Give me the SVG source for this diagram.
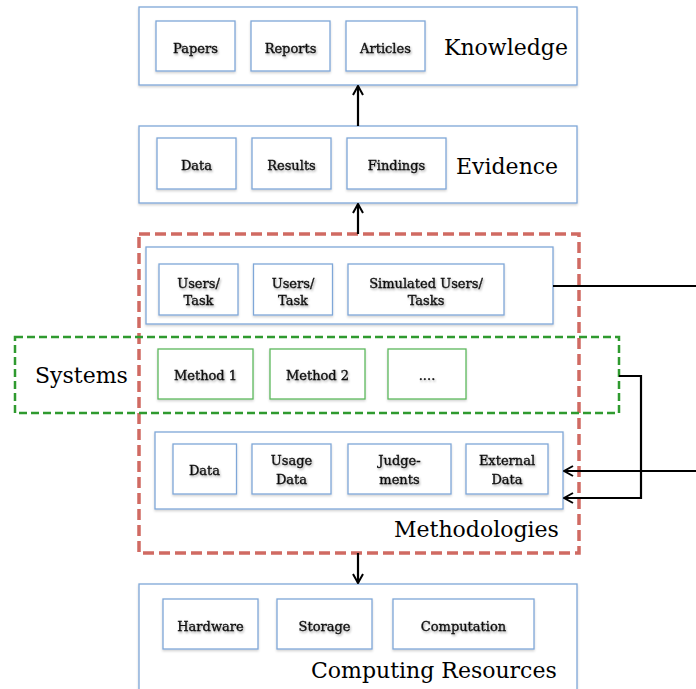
<svg xmlns="http://www.w3.org/2000/svg" width="696" height="689" viewBox="0 0 696 689">
<defs>
<filter id="bs" x="-10%" y="-10%" width="120%" height="130%"><feDropShadow dx="0" dy="1.5" stdDeviation="1.2" flood-color="#000" flood-opacity="0.18"/></filter>
<filter id="ts" x="-10%" y="-20%" width="120%" height="150%"><feDropShadow dx="1" dy="1.5" stdDeviation="0.8" flood-color="#000" flood-opacity="0.35"/></filter>
<marker id="ah" viewBox="0 0 12 12" refX="11" refY="6" markerWidth="12" markerHeight="12" markerUnits="userSpaceOnUse" orient="auto"><path d="M2,1 L11,6 L2,11" fill="none" stroke="#000" stroke-width="2"/></marker>
<style>
.outer{fill:#fff;stroke:#7fa7d8;stroke-width:1.3;filter:url(#bs)}
.inner{fill:#fff;stroke:#7fa7d8;stroke-width:1.3;filter:url(#bs)}
.ginner{fill:#fff;stroke:#5cb85c;stroke-width:1.3;filter:url(#bs)}
.red{fill:none;stroke:#d06a62;stroke-width:3.5;stroke-dasharray:11,5}
.green{fill:none;stroke:#2f9a2f;stroke-width:2.5;stroke-dasharray:8,4}
.s{font-family:"DejaVu Serif","Liberation Serif",serif;font-size:13px;fill:#111;stroke:#111;stroke-width:0.35;text-anchor:middle;filter:url(#ts)}
.b{font-family:"DejaVu Serif","Liberation Serif",serif;font-size:22px;fill:#000}
.c{fill:none;stroke:#000;stroke-width:2.2}
</style>
</defs>
<g id="methodologies-group"><rect class="red" x="139" y="234" width="440" height="319"/></g>
<g id="knowledge">
<rect class="outer" x="139" y="7" width="438" height="78"/>
<rect class="inner" x="156" y="21" width="79" height="50"/><text class="s" x="195.5" y="53">Papers</text>
<rect class="inner" x="251" y="21" width="79" height="50"/><text class="s" x="290.5" y="53">Reports</text>
<rect class="inner" x="346" y="21" width="79" height="50"/><text class="s" x="385.5" y="53">Articles</text>
<text class="b" x="444" y="55">Knowledge</text>
</g>
<g id="evidence">
<rect class="outer" x="139" y="126" width="438" height="77"/>
<rect class="inner" x="157" y="138" width="79" height="51"/><text class="s" x="196.5" y="170">Data</text>
<rect class="inner" x="252" y="138" width="79" height="51"/><text class="s" x="291.5" y="170">Results</text>
<rect class="inner" x="347" y="138" width="99" height="51"/><text class="s" x="396.5" y="170">Findings</text>
<text class="b" x="456" y="174">Evidence</text>
</g>
<g id="users">
<rect class="outer" x="146" y="247" width="407" height="77"/>
<rect class="inner" x="159" y="264" width="79" height="51"/><text class="s" x="198.5" y="288">Users/</text><text class="s" x="198.5" y="305">Task</text>
<rect class="inner" x="253.5" y="264" width="79" height="51"/><text class="s" x="293" y="288">Users/</text><text class="s" x="293" y="305">Task</text>
<rect class="inner" x="348" y="264" width="156" height="51"/><text class="s" x="426" y="288">Simulated Users/</text><text class="s" x="426" y="305">Tasks</text>
</g>
<g id="systems">
<rect class="green" x="15" y="337" width="604" height="76"/>
<text class="b" x="35" y="383">Systems</text>
<rect class="ginner" x="158" y="349" width="95" height="50"/><text class="s" x="205.5" y="380">Method 1</text>
<rect class="ginner" x="270" y="349" width="95" height="50"/><text class="s" x="317.5" y="380">Method 2</text>
<rect class="ginner" x="388" y="349" width="78" height="50"/><text class="s" x="427" y="380">....</text>
</g>
<g id="data">
<rect class="outer" x="155" y="432" width="408" height="77"/>
<rect class="inner" x="173" y="444" width="63.5" height="50"/><text class="s" x="204.5" y="475">Data</text>
<rect class="inner" x="252" y="444" width="79" height="50"/><text class="s" x="291.5" y="465">Usage</text><text class="s" x="291.5" y="484">Data</text>
<rect class="inner" x="348" y="444" width="103" height="50"/><text class="s" x="399.5" y="465">Judge-</text><text class="s" x="399.5" y="484">ments</text>
<rect class="inner" x="466" y="444" width="82" height="50"/><text class="s" x="507" y="465">External</text><text class="s" x="507" y="484">Data</text>
</g>
<g id="methodologies-label"><text class="b" x="394" y="537">Methodologies</text></g>
<g id="computing">
<rect class="outer" x="139" y="584" width="438" height="106"/>
<rect class="inner" x="163" y="599" width="95" height="50"/><text class="s" x="210.5" y="631">Hardware</text>
<rect class="inner" x="277" y="599" width="95" height="50"/><text class="s" x="324.5" y="631">Storage</text>
<rect class="inner" x="393" y="599" width="141" height="50"/><text class="s" x="463.5" y="631">Computation</text>
<text class="b" x="311" y="678">Computing Resources</text>
</g>
<g id="connectors">
<line class="c" x1="358" y1="126" x2="358" y2="86" marker-end="url(#ah)"/>
<line class="c" x1="358" y1="234" x2="358" y2="204" marker-end="url(#ah)"/>
<line class="c" x1="358" y1="553" x2="358" y2="583" marker-end="url(#ah)"/>
<line class="c" x1="553" y1="286" x2="696" y2="286"/>
<line class="c" x1="696" y1="471" x2="564" y2="471" marker-end="url(#ah)"/>
<polyline class="c" points="619,376 641,376 641,498 564,498" marker-end="url(#ah)"/>
</g>
</svg>
